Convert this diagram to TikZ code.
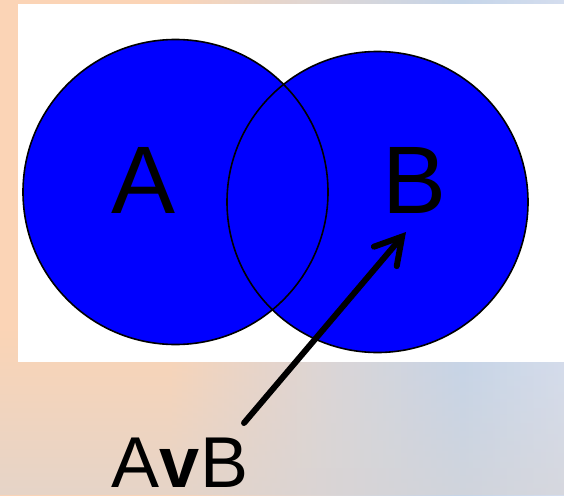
\documentclass[tikz,border=0pt]{standalone}
\usepackage{fontspec}
\setmainfont{Liberation Sans}
\usetikzlibrary{arrows.meta,fadings}
\definecolor{peach}{HTML}{FBD4B6}
\definecolor{midgray}{HTML}{DAD6D8}
\definecolor{lblue}{HTML}{C5D5E9}
\definecolor{lblueb}{HTML}{D4DDEE}
\definecolor{fog}{HTML}{D8D4D4}
\pgfdeclarehorizontalshading{bgshade}{100bp}{color(0bp)=(peach); color(25bp)=(peach); color(40bp)=(peach); color(55bp)=(midgray); color(66bp)=(lblue); color(75bp)=(lblueb); color(100bp)=(lblueb)}
\tikzset{
  setfill/.style={fill={rgb,255:red,0;green,0;blue,255}},
  setline/.style={draw=black, line width=1.6pt},
  biglabel/.style={font=\fontsize{96}{100}\selectfont, text=black, inner sep=0pt, anchor=base},
  capt/.style={font=\fontsize{72}{80}\selectfont, text=black, inner sep=0pt, anchor=base},
  pointer/.style={line width=6pt, line cap=round, -{Straight Barb[length=26pt,width=30pt,line cap=round]}}
}
\begin{document}
\begin{tikzpicture}[x=1pt,y=-1pt]
  \useasboundingbox (0,0) rectangle (564,495);
  % background
  \shade[shading=bgshade] (0,0) rectangle (564,495);
  \fill[fog, opacity=0.6, path fading=north] (0,330) rectangle (564,495);
  % white panel
  \fill[white] (18,4) rectangle (564,362);
  % circles
  \path[setfill] (175.5,192) circle[radius=152.5pt];
  \path[setfill] (377.5,202) circle[radius=150.5pt];
  \node[circle, setline, minimum size=305pt, inner sep=0pt] (setA) at (175.5,192) {};
  \node[circle, setline, minimum size=301pt, inner sep=0pt] (setB) at (377.5,202) {};
  % labels
  \node[biglabel] (labA) at (143.5,213) {A};
  \node[biglabel] (labB) at (414.5,213) {B};
  \node[capt] (avb) at (180,487) {A\textbf{v}B};
  \coordinate (tip) at (406,232);
  \coordinate (tail) at (244,423);
  \draw[pointer] (tail) -- (tip);
\end{tikzpicture}
\end{document}
